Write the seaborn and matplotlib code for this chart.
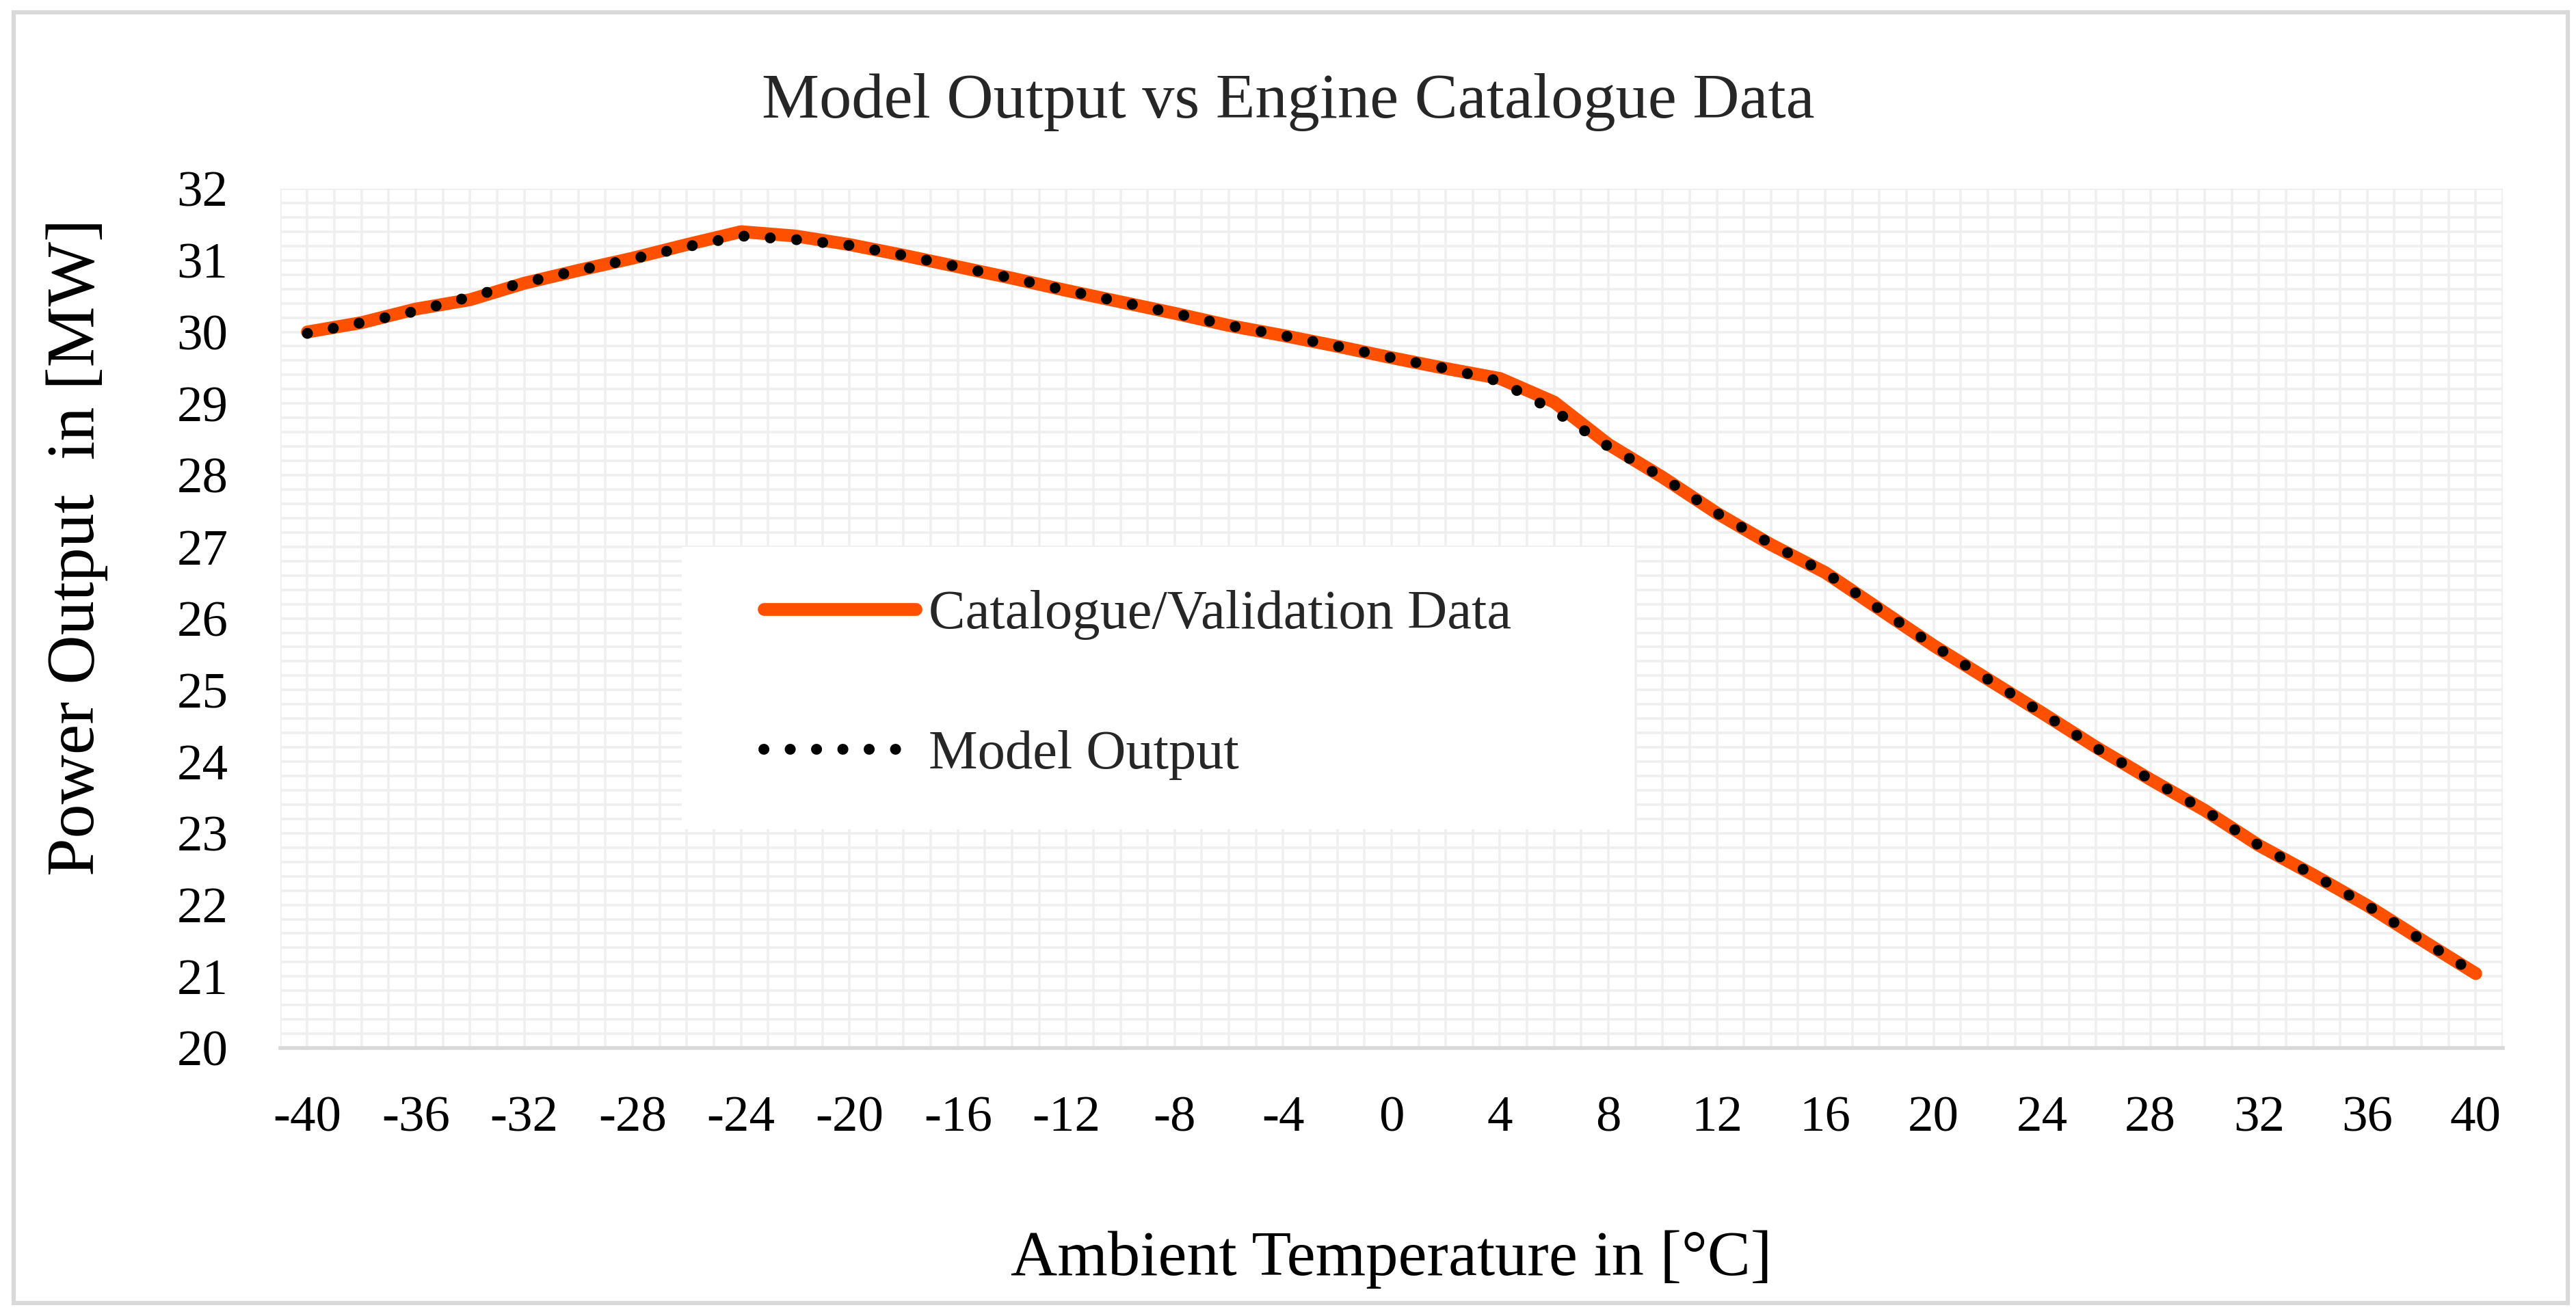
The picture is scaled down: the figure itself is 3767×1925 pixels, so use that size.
import numpy as np
import pandas as pd
import matplotlib
matplotlib.use('Agg')
import matplotlib.pyplot as plt
import seaborn as sns
from matplotlib.patches import Rectangle
from matplotlib.ticker import MultipleLocator

# Values (every 2 degC)
temperature = list(range(-40, 41, 2))
catalogue_mw = [30.00, 30.13, 30.32, 30.45, 30.68, 30.86, 31.03, 31.22, 31.40, 31.34,
                31.22, 31.07, 30.91, 30.75, 30.58, 30.42, 30.26, 30.09, 29.95, 29.80,
                29.64, 29.49, 29.35, 29.02, 28.43, 27.97, 27.47, 27.03, 26.64, 26.13,
                25.62, 25.15, 24.68, 24.20, 23.75, 23.32, 22.83, 22.42, 21.99, 21.51, 21.04]
model_mw = [29.98, 30.13, 30.29, 30.49, 30.69, 30.86, 31.02, 31.19, 31.34, 31.29,
            31.21, 31.07, 30.91, 30.75, 30.58, 30.42, 30.26, 30.09, 29.95, 29.80,
            29.64, 29.49, 29.31, 28.90, 28.40, 27.97, 27.47, 27.04, 26.64, 26.13,
            25.62, 25.15, 24.68, 24.19, 23.75, 23.32, 22.83, 22.42, 21.99, 21.51, 21.04]
x_ticks = list(range(-40, 41, 4))
y_ticks = list(range(20, 33))

df = pd.DataFrame({'temp': temperature, 'catalogue': catalogue_mw, 'model': model_mw})

sns.set_theme(style='white')
plt.rcParams['font.family'] = ['Liberation Serif', 'DejaVu Serif']
plt.rcParams['axes.unicode_minus'] = False

fig = plt.figure(figsize=(37.67, 19.25), dpi=100)
ax = fig.add_axes([0.1088, 0.2036, 0.8628, 0.653])

# Catalogue line (thick orange) and model output (black dots)
sns.lineplot(data=df, x='temp', y='catalogue', ax=ax, color='#ff5000',
             label='Catalogue/Validation Data', zorder=3)
sns.lineplot(data=df, x='temp', y='model', ax=ax, color='black',
             label='Model Output', zorder=4)

cat_line, model_line = ax.lines[0], ax.lines[1]
cat_line.set_linewidth(13.5)
cat_line.set_solid_capstyle('round')
cat_line.set_solid_joinstyle('round')
model_line.set_linewidth(11.5)
model_line.set_linestyle((0, (0.01, 2.4)))
model_line.set_dash_capstyle('round')

ax.set_xlim(-41, 41)
ax.set_ylim(20, 32)
ax.set_xticks(x_ticks)
ax.set_yticks(y_ticks)
ax.xaxis.set_minor_locator(MultipleLocator(1))
ax.yaxis.set_minor_locator(MultipleLocator(0.2))
ax.set_axisbelow(True)
ax.grid(which='both', axis='both', color='#efefef', linewidth=2.6)

for side in ['top', 'left', 'right']:
    ax.spines[side].set_visible(False)
ax.spines['bottom'].set_color('#d9d9d9')
ax.spines['bottom'].set_linewidth(4)

ax.tick_params(axis='both', which='both', length=0, labelsize=54, colors='black')
ax.tick_params(axis='y', pad=55)
ax.tick_params(axis='x', pad=50)

ax.set_xlabel('Ambient Temperature in [°C]', fontsize=68, color='black')
ax.set_ylabel('Power Output  in [MW]', fontsize=72, color='black')
ax.xaxis.set_label_coords(0.5, -0.212)
ax.yaxis.set_label_coords(-0.0775, 0.583)

fig.suptitle('Model Output vs Engine Catalogue Data', fontsize=68, x=0.5, y=0.9106,
             va='baseline')

# legend box
ax.add_patch(Rectangle((0.1806, 0.2546), 0.4286, 0.3286, transform=ax.transAxes,
                       facecolor='white', edgecolor='none', zorder=1))
handles, labels = ax.get_legend_handles_labels()
ax.legend(handles, labels, loc='upper left', bbox_to_anchor=(0.2175, 0.533),
          frameon=False, fontsize=58, handlelength=2.76, handletextpad=0.24,
          labelspacing=1.63, borderpad=0, borderaxespad=0)

# outer chart border
fig.patches.append(Rectangle((20 / 3767, 1 - 1906 / 1925), 3735 / 3767, 1888 / 1925,
                             transform=fig.transFigure, fill=False,
                             edgecolor='#d9d9d9', linewidth=4.5))

fig.savefig('out.png', dpi=100, facecolor='white')
